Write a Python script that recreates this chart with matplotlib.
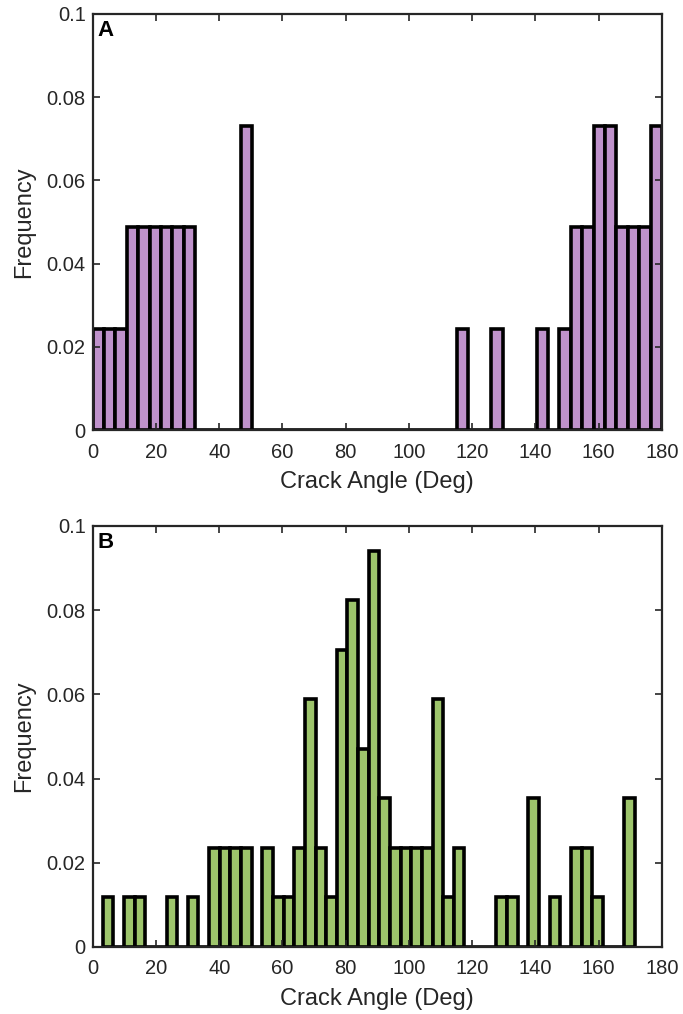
import matplotlib.pyplot as plt
import numpy as np

plt.rcParams['font.family'] = ['Liberation Sans', 'DejaVu Sans']

# bin counts (50 bins per panel)
counts_a = [1, 1, 1, 2, 2, 2, 2, 2, 2, 0,
            0, 0, 0, 3, 0, 0, 0, 0, 0, 0,
            0, 0, 0, 0, 0, 0, 0, 0, 0, 0,
            0, 0, 1, 0, 0, 1, 0, 0, 0, 1,
            0, 1, 2, 2, 3, 3, 2, 2, 2, 3]
counts_b = [1, 0, 1, 1, 0, 0, 1, 0, 1, 0,
            2, 2, 2, 2, 0, 2, 1, 1, 2, 5,
            2, 1, 6, 7, 4, 8, 3, 2, 2, 2,
            2, 5, 1, 2, 0, 0, 0, 1, 1, 0,
            3, 0, 1, 0, 2, 2, 1, 0, 0, 3]
range_a = (0.0, 180.0)
range_b = (3.16, 171.4)

color_a = '#BF92CB'
color_b = '#9DC46B'

yticks = [0, 0.02, 0.04, 0.06, 0.08, 0.1]
yticklabels = ['0', '0.02', '0.04', '0.06', '0.08', '0.1']
xticks = list(range(0, 181, 20))

fig = plt.figure(figsize=(6.83, 10.14), dpi=100)
ax_a = fig.add_axes([0.1357, 0.5759, 0.8335, 0.4103])
ax_b = fig.add_axes([0.1357, 0.0661, 0.8335, 0.4152])


def draw(ax, counts, rng, color, letter):
    counts = np.array(counts, dtype=float)
    edges = np.linspace(rng[0], rng[1], len(counts) + 1)
    freq = counts / counts.sum()
    ax.bar(edges[:-1], freq, width=np.diff(edges), align='edge',
           color=color, edgecolor='black', linewidth=2.6)
    ax.set_xlim(0, 180)
    ax.set_ylim(0, 0.1)
    ax.set_xticks(xticks)
    ax.set_yticks(yticks)
    ax.set_yticklabels(yticklabels)
    ax.tick_params(direction='in', top=True, right=True, length=5,
                   width=1.2, labelsize=14.5, colors='#262626')
    ax.tick_params(axis='x', pad=9)
    ax.tick_params(axis='y', pad=5)
    for s in ax.spines.values():
        s.set_linewidth(1.6)
        s.set_color('#262626')
    ax.set_xlabel('Crack Angle (Deg)', fontsize=17, color='#262626', labelpad=7)
    ax.set_ylabel('Frequency', fontsize=17, color='#262626', labelpad=8)
    ax.text(0.008, 0.985, letter, transform=ax.transAxes, fontsize=16,
            fontweight='bold', va='top', ha='left')


draw(ax_a, counts_a, range_a, color_a, 'A')
draw(ax_b, counts_b, range_b, color_b, 'B')

fig.savefig('out.png', dpi=100)
